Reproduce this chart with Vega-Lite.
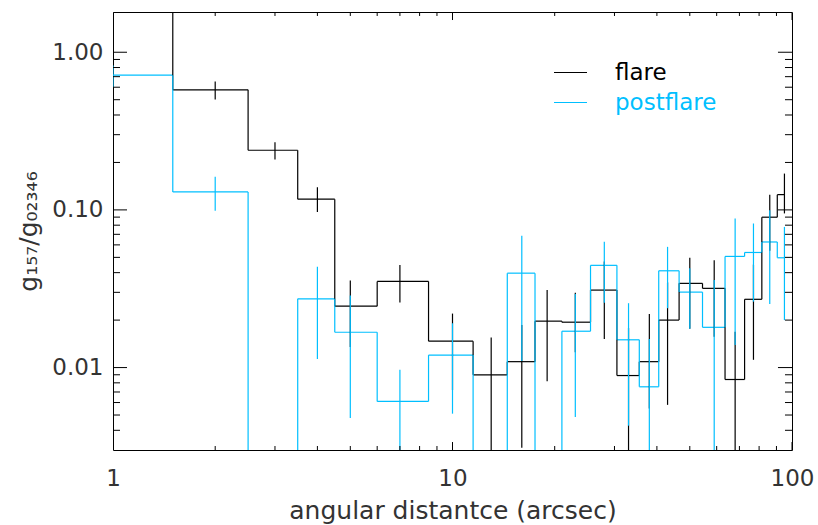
{
  "$schema": "https://vega.github.io/schema/vega-lite/v6.json",
  "width": 679,
  "height": 438,
  "autosize": "none",
  "padding": {"left": 113, "top": 12, "right": 26, "bottom": 75},
  "background": "white",
  "config": {
    "view": {"stroke": "black", "strokeWidth": 1},
    "font": "DejaVu Sans",
    "axis": {
      "labelFont": "DejaVu Sans", "titleFont": "DejaVu Sans",
      "labelFontWeight": "normal", "titleFontWeight": "normal",
      "labelColor": "#333333", "titleColor": "#333333",
      "domain": false, "ticks": false, "grid": false,
      "labelOverlap": false, "labelFlush": false, "labelBound": false
    }
  },
  "datasets": {
    "xt": [{"t": 1}, {"t": 2}, {"t": 3}, {"t": 4}, {"t": 5}, {"t": 6}, {"t": 7}, {"t": 8}, {"t": 9}, {"t": 10},
           {"t": 20}, {"t": 30}, {"t": 40}, {"t": 50}, {"t": 60}, {"t": 70}, {"t": 80}, {"t": 90}, {"t": 100}],
    "yt": [{"t": 0.004}, {"t": 0.005}, {"t": 0.006}, {"t": 0.007}, {"t": 0.008}, {"t": 0.009}, {"t": 0.01},
           {"t": 0.02}, {"t": 0.03}, {"t": 0.04}, {"t": 0.05}, {"t": 0.06}, {"t": 0.07}, {"t": 0.08}, {"t": 0.09}, {"t": 0.1},
           {"t": 0.2}, {"t": 0.3}, {"t": 0.4}, {"t": 0.5}, {"t": 0.6}, {"t": 0.7}, {"t": 0.8}, {"t": 0.9}, {"t": 1}]
  },
  "data": {"values": [
    {"s": "flare", "c": 1, "lo": 1, "hi": 1.5, "v": 2.5, "elo": null, "ehi": null},
    {"s": "flare", "c": 2, "lo": 1.5, "hi": 2.5, "v": 0.578, "elo": 0.502, "ehi": 0.653},
    {"s": "flare", "c": 3, "lo": 2.5, "hi": 3.5, "v": 0.239, "elo": 0.209, "ehi": 0.269},
    {"s": "flare", "c": 4, "lo": 3.5, "hi": 4.5, "v": 0.117, "elo": 0.097, "ehi": 0.139},
    {"s": "flare", "c": 5, "lo": 4.5, "hi": 6, "v": 0.0245, "elo": 0.0135, "ehi": 0.0356},
    {"s": "flare", "c": 7, "lo": 6, "hi": 8.5, "v": 0.0352, "elo": 0.0259, "ehi": 0.0447},
    {"s": "flare", "c": 10, "lo": 8.5, "hi": 11.5, "v": 0.0147, "elo": 0.0072, "ehi": 0.022},
    {"s": "flare", "c": 13, "lo": 11.5, "hi": 14.5, "v": 0.009, "elo": 0.001, "ehi": 0.0155},
    {"s": "flare", "c": 16, "lo": 14.5, "hi": 17.5, "v": 0.0109, "elo": 0.0031, "ehi": 0.0186},
    {"s": "flare", "c": 19, "lo": 17.5, "hi": 21, "v": 0.0197, "elo": 0.0082, "ehi": 0.031},
    {"s": "flare", "c": 23, "lo": 21, "hi": 25.5, "v": 0.0194, "elo": 0.0125, "ehi": 0.0298},
    {"s": "flare", "c": 28, "lo": 25.5, "hi": 30.5, "v": 0.031, "elo": 0.0152, "ehi": 0.047},
    {"s": "flare", "c": 33, "lo": 30.5, "hi": 35.5, "v": 0.0089, "elo": 0.001, "ehi": 0.0178},
    {"s": "flare", "c": 38, "lo": 35.5, "hi": 40.5, "v": 0.0109, "elo": 0.0055, "ehi": 0.0219},
    {"s": "flare", "c": 43, "lo": 40.5, "hi": 46.5, "v": 0.02, "elo": 0.0058, "ehi": 0.0347},
    {"s": "flare", "c": 50, "lo": 46.5, "hi": 54.5, "v": 0.0342, "elo": 0.0176, "ehi": 0.0497},
    {"s": "flare", "c": 59, "lo": 54.5, "hi": 63.5, "v": 0.0318, "elo": 0.0157, "ehi": 0.048},
    {"s": "flare", "c": 68, "lo": 63.5, "hi": 72.5, "v": 0.0084, "elo": 0.001, "ehi": 0.0169},
    {"s": "flare", "c": 77, "lo": 72.5, "hi": 81.5, "v": 0.0271, "elo": 0.0112, "ehi": 0.045},
    {"s": "flare", "c": 86, "lo": 81.5, "hi": 90.5, "v": 0.0899, "elo": 0.055, "ehi": 0.125},
    {"s": "flare", "c": 95, "lo": 90.5, "hi": 95, "v": 0.125, "elo": 0.095, "ehi": 0.17},
    {"s": "postflare", "c": 1, "lo": 1, "hi": 1.5, "v": 0.715, "elo": 0.6, "ehi": 0.824},
    {"s": "postflare", "c": 2, "lo": 1.5, "hi": 2.5, "v": 0.13, "elo": 0.0986, "ehi": 0.162},
    {"s": "postflare", "c": 3, "lo": 2.5, "hi": 3.5, "v": 0.0005, "elo": null, "ehi": null},
    {"s": "postflare", "c": 4, "lo": 3.5, "hi": 4.5, "v": 0.0273, "elo": 0.01135, "ehi": 0.0436},
    {"s": "postflare", "c": 5, "lo": 4.5, "hi": 6, "v": 0.01675, "elo": 0.00479, "ehi": 0.0286},
    {"s": "postflare", "c": 7, "lo": 6, "hi": 8.5, "v": 0.0061, "elo": 0.001, "ehi": 0.00967},
    {"s": "postflare", "c": 10, "lo": 8.5, "hi": 11.5, "v": 0.012, "elo": 0.0051, "ehi": 0.0191},
    {"s": "postflare", "c": 13, "lo": 11.5, "hi": 14.5, "v": 0.0005, "elo": null, "ehi": null},
    {"s": "postflare", "c": 16, "lo": 14.5, "hi": 17.5, "v": 0.0397, "elo": 0.011, "ehi": 0.0685},
    {"s": "postflare", "c": 19, "lo": 17.5, "hi": 21, "v": 0.0005, "elo": null, "ehi": null},
    {"s": "postflare", "c": 23, "lo": 21, "hi": 25.5, "v": 0.017, "elo": 0.00485, "ehi": 0.0293},
    {"s": "postflare", "c": 28, "lo": 25.5, "hi": 30.5, "v": 0.0445, "elo": 0.0258, "ehi": 0.0627},
    {"s": "postflare", "c": 33, "lo": 30.5, "hi": 35.5, "v": 0.015, "elo": 0.00428, "ehi": 0.0256},
    {"s": "postflare", "c": 38, "lo": 35.5, "hi": 40.5, "v": 0.00755, "elo": 0.001, "ehi": 0.0152},
    {"s": "postflare", "c": 43, "lo": 40.5, "hi": 46.5, "v": 0.0411, "elo": 0.0238, "ehi": 0.0583},
    {"s": "postflare", "c": 50, "lo": 46.5, "hi": 54.5, "v": 0.0301, "elo": 0.0176, "ehi": 0.0426},
    {"s": "postflare", "c": 59, "lo": 54.5, "hi": 63.5, "v": 0.018, "elo": 0.001, "ehi": 0.0359},
    {"s": "postflare", "c": 68, "lo": 63.5, "hi": 72.5, "v": 0.0507, "elo": 0.0139, "ehi": 0.0882},
    {"s": "postflare", "c": 77, "lo": 72.5, "hi": 81.5, "v": 0.0537, "elo": 0.0262, "ehi": 0.082},
    {"s": "postflare", "c": 86, "lo": 81.5, "hi": 90.5, "v": 0.0626, "elo": 0.0253, "ehi": 0.0996},
    {"s": "postflare", "c": 95, "lo": 90.5, "hi": 95, "v": 0.0497, "elo": 0.02, "ehi": 0.078}
  ]},
  "layer": [
    {
      "mark": {"type": "rule", "clip": true, "strokeWidth": 1.2},
      "encoding": {
        "x": {"field": "lo", "type": "quantitative",
          "scale": {"type": "log", "domain": [1, 100], "nice": false},
          "axis": {"orient": "bottom", "values": [1, 10, 100], "format": "~g",
            "labelFontSize": 23, "labelPadding": 17,
            "title": "angular distantce (arcsec)", "titleFontSize": 25, "titlePadding": 8}},
        "x2": {"field": "hi"},
        "y": {"field": "v", "type": "quantitative",
          "scale": {"type": "log", "domain": [0.003, 1.8], "nice": false},
          "axis": {"orient": "left", "values": [0.01, 0.1, 1], "format": ".2f",
            "labelFontSize": 23, "labelPadding": 10,
            "title": "g₁₅₇/g₀₂₃₄₆", "titleFontSize": 25, "titlePadding": 10}},
        "color": {"field": "s", "type": "nominal",
          "scale": {"domain": ["flare", "postflare"], "range": ["#000000", "#00bfff"]},
          "legend": {"orient": "none", "legendX": 440, "legendY": 43, "title": null,
            "symbolType": "stroke", "symbolSize": 1089, "symbolStrokeWidth": 1.2,
            "labelFontSize": 23, "labelFont": "DejaVu Sans", "labelFontWeight": "normal",
            "labelOffset": 27, "rowPadding": -7, "padding": 0,
            "encode": {"labels": {"update": {"fill": {"signal": "datum.value === 'flare' ? '#000000' : '#00bfff'"}}}}}}
      }
    },
    {
      "transform": [
        {"window": [{"op": "lag", "field": "v", "as": "prev"}], "groupby": ["s"], "sort": [{"field": "c"}]}
      ],
      "mark": {"type": "rule", "clip": true, "strokeWidth": 1.2},
      "encoding": {
        "x": {"field": "lo", "type": "quantitative"},
        "y": {"field": "prev", "type": "quantitative"},
        "y2": {"field": "v"},
        "color": {"field": "s", "type": "nominal"}
      }
    },
    {
      "mark": {"type": "rule", "clip": true, "strokeWidth": 1.2},
      "encoding": {
        "x": {"field": "c", "type": "quantitative"},
        "y": {"field": "elo", "type": "quantitative"},
        "y2": {"field": "ehi"},
        "color": {"field": "s", "type": "nominal"}
      }
    },
    {
      "data": {"name": "xt"},
      "transform": [{"filter": "indexof([1,10,100], datum.t) >= 0"}],
      "mark": {"type": "rule", "clip": true, "strokeWidth": 1, "color": "#000000"},
      "encoding": {
        "x": {"field": "t", "type": "quantitative"},
        "y": {"datum": 0.003, "type": "quantitative"},
        "y2": {"datum": 0.00337}
      }
    },
    {
      "data": {"name": "xt"},
      "transform": [{"filter": "indexof([1,10,100], datum.t) < 0"}],
      "mark": {"type": "rule", "clip": true, "strokeWidth": 1, "color": "#000000"},
      "encoding": {
        "x": {"field": "t", "type": "quantitative"},
        "y": {"datum": 0.003, "type": "quantitative"},
        "y2": {"datum": 0.00318}
      }
    },
    {
      "data": {"name": "xt"},
      "transform": [{"filter": "indexof([1,10,100], datum.t) >= 0"}],
      "mark": {"type": "rule", "clip": true, "strokeWidth": 1, "color": "#000000"},
      "encoding": {
        "x": {"field": "t", "type": "quantitative"},
        "y": {"datum": 1.8, "type": "quantitative"},
        "y2": {"datum": 1.601}
      }
    },
    {
      "data": {"name": "xt"},
      "transform": [{"filter": "indexof([1,10,100], datum.t) < 0"}],
      "mark": {"type": "rule", "clip": true, "strokeWidth": 1, "color": "#000000"},
      "encoding": {
        "x": {"field": "t", "type": "quantitative"},
        "y": {"datum": 1.8, "type": "quantitative"},
        "y2": {"datum": 1.698}
      }
    },
    {
      "data": {"name": "yt"},
      "transform": [{"filter": "indexof([0.01,0.1,1], datum.t) >= 0"}],
      "mark": {"type": "rule", "clip": true, "strokeWidth": 1, "color": "#000000"},
      "encoding": {
        "y": {"field": "t", "type": "quantitative"},
        "x": {"datum": 1, "type": "quantitative"},
        "x2": {"datum": 1.0997}
      }
    },
    {
      "data": {"name": "yt"},
      "transform": [{"filter": "indexof([0.01,0.1,1], datum.t) < 0"}],
      "mark": {"type": "rule", "clip": true, "strokeWidth": 1, "color": "#000000"},
      "encoding": {
        "y": {"field": "t", "type": "quantitative"},
        "x": {"datum": 1, "type": "quantitative"},
        "x2": {"datum": 1.0487}
      }
    },
    {
      "data": {"name": "yt"},
      "transform": [{"filter": "indexof([0.01,0.1,1], datum.t) >= 0"}],
      "mark": {"type": "rule", "clip": true, "strokeWidth": 1, "color": "#000000"},
      "encoding": {
        "y": {"field": "t", "type": "quantitative"},
        "x": {"datum": 100, "type": "quantitative"},
        "x2": {"datum": 90.93}
      }
    },
    {
      "data": {"name": "yt"},
      "transform": [{"filter": "indexof([0.01,0.1,1], datum.t) < 0"}],
      "mark": {"type": "rule", "clip": true, "strokeWidth": 1, "color": "#000000"},
      "encoding": {
        "y": {"field": "t", "type": "quantitative"},
        "x": {"datum": 100, "type": "quantitative"},
        "x2": {"datum": 95.36}
      }
    }
  ]
}
